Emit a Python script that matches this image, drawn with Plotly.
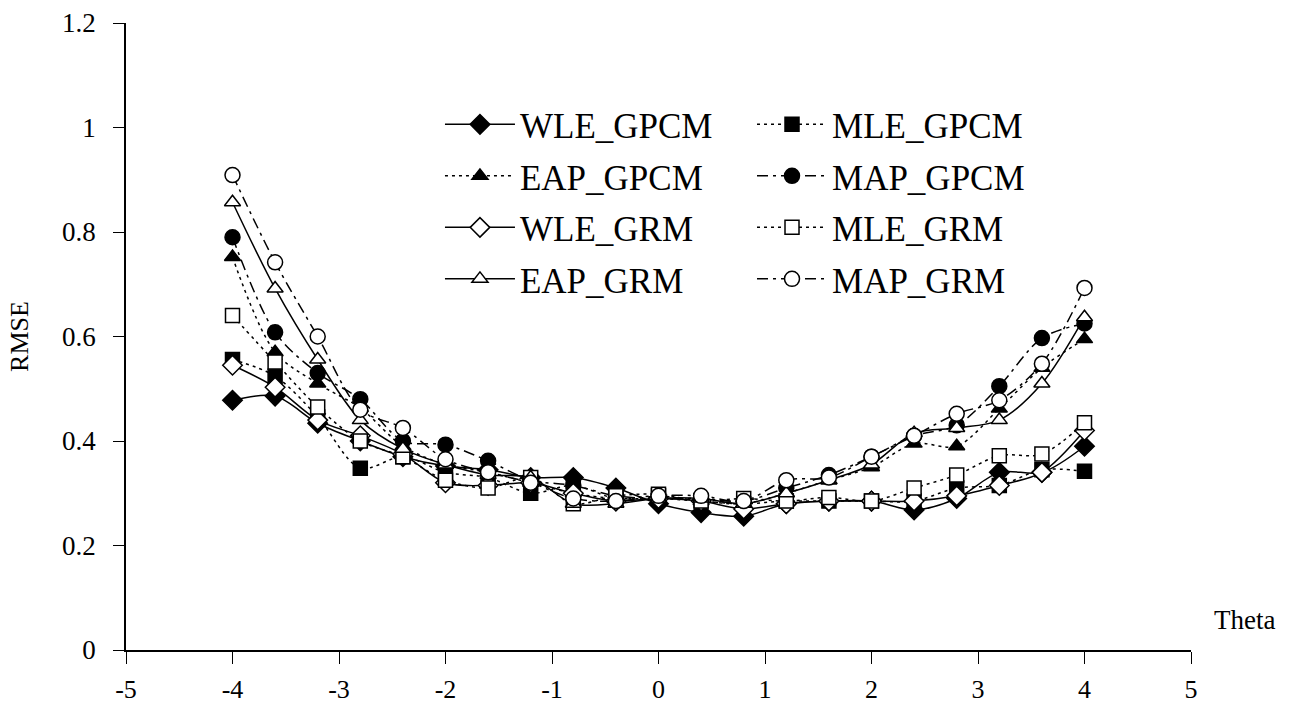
import plotly.graph_objects as go

theta = [-4.0, -3.6, -3.2, -2.8, -2.4, -2.0, -1.6, -1.2, -0.8, -0.4, 0.0,
         0.4, 0.8, 1.2, 1.6, 2.0, 2.4, 2.8, 3.2, 3.6, 4.0]

wle_gpcm = [0.478, 0.486, 0.434, 0.400, 0.370, 0.352, 0.345, 0.330, 0.330, 0.310, 0.280,
            0.263, 0.256, 0.280, 0.285, 0.285, 0.268, 0.290, 0.340, 0.340, 0.390]
mle_gpcm = [0.556, 0.524, 0.446, 0.348, 0.370, 0.340, 0.330, 0.300, 0.315, 0.290, 0.295,
            0.285, 0.280, 0.285, 0.285, 0.285, 0.285, 0.310, 0.315, 0.345, 0.342]
eap_gpcm = [0.752, 0.570, 0.510, 0.463, 0.390, 0.355, 0.340, 0.320, 0.300, 0.290, 0.290,
            0.285, 0.280, 0.300, 0.325, 0.350, 0.395, 0.390, 0.462, 0.540, 0.595]
map_gpcm = [0.790, 0.608, 0.530, 0.480, 0.400, 0.393, 0.362, 0.325, 0.315, 0.295, 0.290,
            0.290, 0.285, 0.310, 0.335, 0.370, 0.410, 0.430, 0.505, 0.597, 0.625]
wle_grm = [0.545, 0.503, 0.440, 0.410, 0.375, 0.320, 0.315, 0.320, 0.300, 0.285, 0.290,
           0.285, 0.270, 0.280, 0.285, 0.285, 0.285, 0.295, 0.315, 0.340, 0.420]
mle_grm = [0.640, 0.551, 0.465, 0.400, 0.370, 0.325, 0.310, 0.330, 0.280, 0.295, 0.298,
           0.285, 0.290, 0.285, 0.292, 0.285, 0.310, 0.335, 0.372, 0.375, 0.435]
eap_grm = [0.857, 0.692, 0.556, 0.440, 0.385, 0.355, 0.335, 0.330, 0.280, 0.280, 0.290,
           0.290, 0.280, 0.300, 0.325, 0.355, 0.415, 0.425, 0.440, 0.510, 0.637]
map_grm = [0.909, 0.742, 0.600, 0.460, 0.425, 0.365, 0.340, 0.320, 0.290, 0.285, 0.295,
           0.295, 0.285, 0.325, 0.330, 0.370, 0.410, 0.452, 0.478, 0.548, 0.693]

x_ticks = [-5, -4, -3, -2, -1, 0, 1, 2, 3, 4, 5]
y_ticks = [0, 0.2, 0.4, 0.6, 0.8, 1.0, 1.2]
y_tick_text = ["0", "0.2", "0.4", "0.6", "0.8", "1", "1.2"]

FONT = "Liberation Serif"
DOT = "3px,4px"
DASHDOT = "11px,5px,3px,5px"

# (name, values, symbol, filled, dash, legend column)
series = [
    ("WLE_GPCM", wle_gpcm, "diamond", True, "solid", "legend"),
    ("MLE_GPCM", mle_gpcm, "square", True, DOT, "legend2"),
    ("EAP_GPCM", eap_gpcm, "triangle-up", True, DOT, "legend"),
    ("MAP_GPCM", map_gpcm, "circle", True, DASHDOT, "legend2"),
    ("WLE_GRM", wle_grm, "diamond", False, "solid", "legend"),
    ("MLE_GRM", mle_grm, "square", False, DOT, "legend2"),
    ("EAP_GRM", eap_grm, "triangle-up", False, "solid", "legend"),
    ("MAP_GRM", map_grm, "circle", False, DASHDOT, "legend2"),
]

fig = go.Figure()
for name, vals, sym, filled, dash, leg in series:
    size = {"diamond": 15, "square": 14, "triangle-up": 14, "circle": 15}[sym]
    fig.add_trace(go.Scatter(
        x=theta, y=vals, name=name, mode="lines+markers",
        line=dict(color="black", width=1.5, dash=dash, shape="spline", smoothing=0.9),
        marker=dict(symbol=sym, size=size,
                    color="black" if filled else "white",
                    line=dict(color="black", width=1.5)),
        legend=leg, legendgroup=name,
    ))

legend_common = dict(
    font=dict(family=FONT, size=35, color="black"),
    bgcolor="rgba(0,0,0,0)", tracegroupgap=3, itemwidth=70,
    xanchor="left", yanchor="top",
)
fig.update_layout(
    width=1296, height=708,
    margin=dict(l=126, r=105, t=23, b=58),
    paper_bgcolor="white", plot_bgcolor="white",
    font=dict(family=FONT, size=27, color="black"),
    legend=dict(x=0.2948, y=0.885, **legend_common),
    legend2=dict(x=0.5878, y=0.885, **legend_common),
    xaxis=dict(
        range=[-5, 5], tickvals=x_ticks, ticktext=[str(v) for v in x_ticks],
        showgrid=False, zeroline=False, showline=True, linecolor="black", linewidth=1.5,
        ticks="outside", ticklen=12, tickwidth=1.2, tickcolor="black",
        ticklabelstandoff=3, tickfont=dict(family=FONT, size=26), automargin=False,
    ),
    yaxis=dict(
        range=[0, 1.2], tickvals=y_ticks, ticktext=y_tick_text,
        showgrid=False, zeroline=False, showline=True, linecolor="black", linewidth=1.5,
        ticks="outside", ticklen=11, tickwidth=1.2, tickcolor="black",
        ticklabelstandoff=12, tickfont=dict(family=FONT, size=27), automargin=False,
        title=dict(text="RMSE", font=dict(family=FONT, size=26), standoff=26),
    ),
    annotations=[dict(
        text="Theta", xref="paper", yref="paper", x=1.02, y=0.02,
        xanchor="left", yanchor="bottom", showarrow=False,
        font=dict(family=FONT, size=27, color="black"),
    )],
)

fig.write_html("out.html")
